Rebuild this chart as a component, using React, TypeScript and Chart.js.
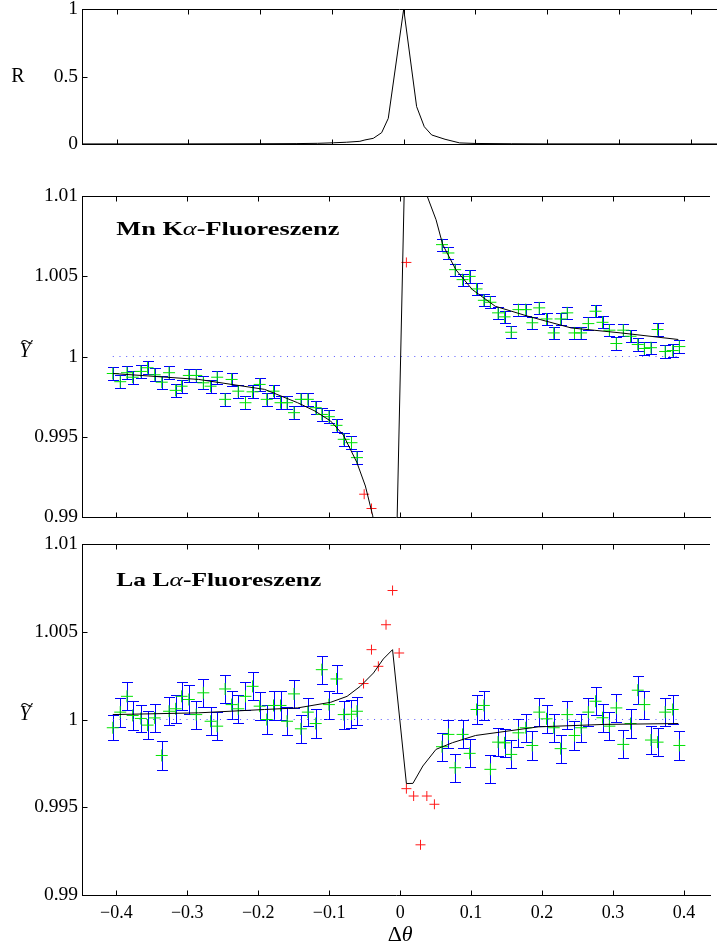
import React, { useEffect, useRef } from 'react';
import { Chart, registerables } from 'chart.js';

Chart.register(...registerables);

// ---------- tick definitions ----------
const xTicks = [-0.4, -0.3, -0.2, -0.1, 0, 0.1, 0.2, 0.3, 0.4];
const xTickLabels = ['\u22120.4', '\u22120.3', '\u22120.2', '\u22120.1', '0', '0.1', '0.2', '0.3', '0.4'];
const rTicks = [0, 0.5, 1];
const rTickLabels = ['0', '0.5', '1'];
const yTicks = [0.99, 0.995, 1, 1.005, 1.01];
const yTickLabels = ['0.99', '0.995', '1', '1.005', '1.01'];

// ---------- top panel: reflectivity R ----------
const rX = [-0.45, -0.3, -0.2, -0.15, -0.12, -0.098, -0.08, -0.061, -0.054, -0.0424, -0.0307, -0.0215, 0, 0.018, 0.0287, 0.039, 0.0576, 0.078, 0.1, 0.15, 0.2, 0.3, 0.45];
const rY = [0.0005, 0.001, 0.002, 0.003, 0.005, 0.009, 0.013, 0.02, 0.03, 0.042, 0.084, 0.19, 1, 0.277, 0.128, 0.067, 0.035, 0.008, 0.004, 0.002, 0.001, 0.0007, 0.0004];

// ---------- measurement positions (shared by both panels) ----------
const xsLeft = [-0.405, -0.3945, -0.385, -0.377, -0.3655, -0.356, -0.346, -0.336, -0.3257, -0.3164, -0.308, -0.2978, -0.2874, -0.2774, -0.2672, -0.2579, -0.2467, -0.2375, -0.2282, -0.218, -0.208, -0.198, -0.188, -0.1785, -0.1686, -0.1594, -0.1496, -0.1399, -0.1301, -0.119, -0.1104, -0.1004, -0.0897, -0.0795, -0.0686, -0.0609];
const xsRight = [0.059, 0.068, 0.0775, 0.088, 0.098, 0.1077, 0.118, 0.1272, 0.138, 0.1472, 0.1565, 0.1667, 0.177, 0.1862, 0.196, 0.2063, 0.2165, 0.2262, 0.2355, 0.2457, 0.255, 0.2652, 0.2754, 0.2852, 0.2949, 0.3047, 0.3145, 0.3247, 0.3349, 0.3442, 0.3535, 0.3628, 0.3735, 0.3841, 0.3935];

// ---------- Mn K-alpha fluorescence ----------
const mnLeft = [0.99894, 0.99843, 0.99899, 0.99871, 0.99907, 0.9993, 0.99886, 0.9984, 0.99899, 0.99789, 0.99815, 0.99882, 0.99882, 0.99836, 0.99815, 0.99871, 0.99733, 0.99857, 0.99784, 0.99712, 0.9978, 0.99826, 0.99733, 0.99784, 0.99712, 0.99712, 0.9965, 0.99733, 0.99733, 0.99681, 0.99639, 0.99625, 0.99571, 0.99484, 0.99463, 0.9937];
const mnRight = [1.00697, 1.00645, 1.00541, 1.00479, 1.00499, 1.00421, 1.0035, 1.00338, 1.00272, 1.00247, 1.00151, 1.00292, 1.00292, 1.0021, 1.00303, 1.00234, 1.00147, 1.00234, 1.00272, 1.00147, 1.00147, 1.00205, 1.00282, 1.00213, 1.00164, 1.00081, 1.00164, 1.00126, 1.00075, 1.0005, 1.00055, 1.00168, 1.00031, 1.00037, 1.00062];
const mnErrLeft = [0.0004, 0.0004, 0.0004, 0.0004, 0.0004, 0.0004, 0.0004, 0.0004, 0.0004, 0.0004, 0.0004, 0.0004, 0.0004, 0.0004, 0.0004, 0.0004, 0.0004, 0.0004, 0.0004, 0.0004, 0.0004, 0.0004, 0.0004, 0.0004, 0.0004, 0.0004, 0.0004, 0.0004, 0.0004, 0.0004, 0.0004, 0.0004, 0.0004, 0.0004, 0.0004, 0.0004];
const mnErrRight = [0.00038, 0.00038, 0.00038, 0.00038, 0.00038, 0.00038, 0.00038, 0.00038, 0.00038, 0.00038, 0.00038, 0.00038, 0.00038, 0.00038, 0.00038, 0.00038, 0.00038, 0.00038, 0.00038, 0.00038, 0.00038, 0.00038, 0.00038, 0.00038, 0.00038, 0.00038, 0.00038, 0.00038, 0.00038, 0.00038, 0.00038, 0.00038, 0.00038, 0.00038, 0.00038];
const mnRedX = [-0.0507, -0.0404, 0.0088];
const mnRedY = [0.99142, 0.99053, 1.00586];
const mnFitX = [-0.405, -0.2839, -0.191, -0.1445, -0.12, -0.098, -0.08, -0.061, -0.049, -0.0386, -0.01, 0.01, 0.038, 0.0506, 0.06, 0.0785, 0.1017, 0.134, 0.18, 0.241, 0.311, 0.392];
const mnFitY = [0.99894, 0.99857, 0.99795, 0.99712, 0.9966, 0.99598, 0.9951, 0.9934, 0.99193, 0.99007, 0.97817, 1.01898, 1.01, 1.00852, 1.00697, 1.00541, 1.00417, 1.00313, 1.00251, 1.00178, 1.00147, 1.00106];

// ---------- La L-alpha fluorescence ----------
const laLeft = [0.99953, 1.00042, 1.00132, 1.00023, 1.00006, 0.99968, 1.00009, 0.99795, 1.00047, 1.00061, 1.00132, 1.00114, 1.00028, 1.00152, 0.9999, 0.99962, 1.00174, 1.00085, 1.00061, 1.00132, 1.00189, 1.00076, 1.0, 1.0008, 1.0008, 0.9999, 1.00146, 0.99947, 1.00042, 0.99977, 1.00284, 1.00085, 1.00231, 1.00028, 1.0003, 1.00047];
const laRight = [0.99845, 0.99915, 0.99725, 0.99915, 0.99807, 1.00057, 1.0008, 0.99716, 0.99871, 0.99867, 0.99801, 0.99924, 0.99953, 0.99852, 1.00042, 1.00004, 0.99953, 0.99834, 1.00028, 0.99909, 0.99953, 1.00042, 1.00104, 1.0001, 0.99962, 1.00066, 0.99858, 0.99977, 1.00167, 1.00085, 0.99883, 0.99871, 1.00042, 1.00057, 0.99852];
const laErrLeft = [0.00072, 0.00082, 0.0008, 0.00082, 0.00078, 0.0008, 0.0008, 0.00082, 0.0008, 0.0008, 0.0008, 0.0008, 0.0008, 0.0008, 0.0008, 0.0008, 0.0008, 0.0008, 0.0008, 0.0008, 0.0008, 0.0008, 0.0008, 0.0008, 0.0008, 0.0008, 0.0008, 0.0008, 0.0008, 0.0008, 0.0008, 0.0008, 0.0008, 0.0008, 0.0008, 0.0008];
const laErrRight = [0.0008, 0.0008, 0.0008, 0.0008, 0.0008, 0.0008, 0.0008, 0.0008, 0.0008, 0.0008, 0.0008, 0.0008, 0.0008, 0.0008, 0.0008, 0.0008, 0.0008, 0.0008, 0.0008, 0.0008, 0.0008, 0.0008, 0.0008, 0.0008, 0.0008, 0.0008, 0.0008, 0.0008, 0.0008, 0.0008, 0.0008, 0.0008, 0.0008, 0.0008, 0.00082];
const laRedX = [-0.0516, -0.0404, -0.0307, -0.0199, -0.0107, -0.0014, 0.0088, 0.019, 0.0287, 0.0376, 0.0483];
const laRedY = [1.00205, 1.00398, 1.00303, 1.0054, 1.00735, 1.00379, 0.99606, 0.99564, 0.99286, 0.99564, 0.99517];
const laFitX = [-0.405, -0.2839, -0.191, -0.1445, -0.098, -0.0748, -0.0563, -0.0376, -0.0237, -0.0107, 0.0088, 0.018, 0.032, 0.0506, 0.0739, 0.1063, 0.1946, 0.2875, 0.392];
const laFitY = [1.00028, 1.00038, 1.00057, 1.00066, 1.00098, 1.00132, 1.00189, 1.00265, 1.00345, 1.00398, 0.99635, 0.99636, 0.99735, 0.9983, 0.99868, 0.99909, 0.99958, 0.99972, 0.99977];

// ---------- styling ----------
const SERIF = '"Liberation Serif", "Times New Roman", serif';
const X_MIN = -0.4484;
const X_MAX = 0.4367;
const GREEN = '#00e400';
const BLUE = '#0000ff';
const RED = '#ff1a1a';

const zip = (xs: number[], ys: number[]) => xs.map((x, i) => ({ x, y: ys[i] }));

type Rich = { t: string; font: string };

function drawRich(ctx: CanvasRenderingContext2D, segs: Rich[], x: number, y: number, targetWidth: number) {
  let w = 0;
  segs.forEach((s) => {
    ctx.font = s.font;
    w += ctx.measureText(s.t).width;
  });
  const sx = targetWidth > 0 ? targetWidth / w : 1;
  ctx.save();
  ctx.translate(x, y);
  ctx.scale(sx, 1);
  ctx.textBaseline = 'alphabetic';
  ctx.textAlign = 'left';
  let cx = 0;
  segs.forEach((s) => {
    ctx.font = s.font;
    ctx.fillText(s.t, cx, 0);
    cx += ctx.measureText(s.t).width;
  });
  ctx.restore();
}

const errorBarPlugin = {
  id: 'errorBars',
  beforeDatasetsDraw(chart: any) {
    const { ctx, chartArea: a, scales } = chart;
    const xs = scales.x;
    const ys = scales.y;
    ctx.save();
    ctx.beginPath();
    ctx.rect(a.left, a.top, a.right - a.left, a.bottom - a.top);
    ctx.clip();
    chart.data.datasets.forEach((ds: any) => {
      if (!ds.errorBars) return;
      ctx.strokeStyle = BLUE;
      ctx.lineWidth = 1;
      const cap = 5.5;
      ds.data.forEach((p: any, i: number) => {
        const e = ds.errorBars[i];
        const px = Math.round(xs.getPixelForValue(p.x)) + 0.5;
        const y1 = Math.round(ys.getPixelForValue(p.y - e)) + 0.5;
        const y2 = Math.round(ys.getPixelForValue(p.y + e)) + 0.5;
        ctx.beginPath();
        ctx.moveTo(px, y1);
        ctx.lineTo(px, y2);
        ctx.moveTo(px - cap, y1);
        ctx.lineTo(px + cap, y1);
        ctx.moveTo(px - cap, y2);
        ctx.lineTo(px + cap, y2);
        ctx.stroke();
      });
    });
    ctx.restore();
  },
};

const framePlugin = {
  id: 'frame',
  afterDraw(chart: any) {
    const { ctx, chartArea: a, scales } = chart;
    const fo = chart.options.plugins.frame || {};
    const xs = scales.x;
    const ys = scales.y;
    const tl = 5;
    ctx.save();
    ctx.strokeStyle = '#000';
    ctx.lineWidth = 1;
    const top = Math.round(a.top) + 0.5;
    const bottom = Math.round(a.bottom) + 0.5;
    const left = Math.round(a.left) + 0.5;
    ctx.beginPath();
    ctx.moveTo(a.left, top);
    ctx.lineTo(a.right, top);
    xs.ticks.forEach((t: any) => {
      const px = Math.round(xs.getPixelForValue(t.value)) + 0.5;
      ctx.moveTo(px, top);
      ctx.lineTo(px, top + tl);
      ctx.moveTo(px, bottom);
      ctx.lineTo(px, bottom - tl);
    });
    ys.ticks.forEach((t: any) => {
      const py = Math.round(ys.getPixelForValue(t.value)) + 0.5;
      ctx.moveTo(left, py);
      ctx.lineTo(left + tl, py);
    });
    ctx.stroke();

    ctx.fillStyle = '#000';
    // y-axis label
    if (fo.yLabel === 'R') {
      ctx.font = '20px ' + SERIF;
      ctx.textAlign = 'center';
      ctx.textBaseline = 'middle';
      ctx.fillText('R', 18, ys.getPixelForValue(0.5));
    } else if (fo.yLabel === 'Y') {
      const cy = ys.getPixelForValue(fo.yLabelValue);
      ctx.font = 'italic 20px ' + SERIF;
      ctx.textAlign = 'center';
      ctx.textBaseline = 'alphabetic';
      ctx.fillText('Y', 25, cy);
      ctx.save();
      ctx.translate(27, cy - 10);
      ctx.scale(1.5, 1);
      ctx.font = '16px ' + SERIF;
      ctx.fillText('~', 0, 0);
      ctx.restore();
    }
    // panel title
    if (fo.title) {
      const tx = xs.getPixelForValue(fo.titleX);
      const ty = ys.getPixelForValue(fo.titleY);
      drawRich(
        ctx,
        [
          { t: fo.title[0], font: 'bold 19px ' + SERIF },
          { t: '\u03B1', font: 'italic 19px ' + SERIF },
          { t: fo.title[1], font: 'bold 19px ' + SERIF },
        ],
        tx,
        ty,
        fo.titleWidth
      );
    }
    // x-axis label
    if (fo.xLabel) {
      const cx = xs.getPixelForValue(0);
      ctx.textBaseline = 'alphabetic';
      ctx.font = '22px ' + SERIF;
      const wD = ctx.measureText('\u0394').width;
      ctx.font = 'italic 22px ' + SERIF;
      const wT = ctx.measureText('\u03B8').width;
      const x0 = cx - (wD + wT) / 2;
      ctx.textAlign = 'left';
      ctx.font = '22px ' + SERIF;
      ctx.fillText('\u0394', x0, a.bottom + 46);
      ctx.font = 'italic 22px ' + SERIF;
      ctx.fillText('\u03B8', x0 + wD, a.bottom + 46);
    }
    ctx.restore();
  },
};

type PanelSpec = {
  top: number;
  height: number;
  padTop: number;
  xAxisH: number;
  yMin: number;
  yMax: number;
  yTickVals: number[];
  yTickText: string[];
  showXLabels: boolean;
  datasets: any[];
  frame: any;
};

function Panel({ spec }: { spec: PanelSpec }) {
  const ref = useRef<HTMLCanvasElement | null>(null);
  useEffect(() => {
    if (!ref.current) return;
    const chart = new Chart(ref.current, {
      type: 'scatter',
      data: { datasets: spec.datasets },
      plugins: [errorBarPlugin, framePlugin],
      options: {
        animation: false,
        responsive: false,
        devicePixelRatio: 1,
        events: [],
        layout: { padding: { top: spec.padTop, left: 0, right: 0, bottom: 0 } },
        plugins: {
          legend: { display: false },
          tooltip: { enabled: false },
          title: { display: false },
          frame: spec.frame,
        } as any,
        scales: {
          x: {
            type: 'linear',
            min: X_MIN,
            max: X_MAX,
            afterBuildTicks: (s: any) => {
              s.ticks = xTicks.map((v) => ({ value: v }));
            },
            afterFit: (s: any) => {
              s.height = spec.xAxisH;
              s.paddingLeft = 0;
              s.paddingRight = 0;
            },
            grid: { display: false, drawTicks: false },
            border: { display: true, color: '#000', width: 1 },
            ticks: {
              display: spec.showXLabels,
              autoSkip: false,
              maxRotation: 0,
              padding: 7,
              color: '#000',
              font: { family: SERIF, size: 18, lineHeight: 1.2 },
              callback: (v: any) => {
                const i = xTicks.findIndex((t) => Math.abs(t - v) < 1e-9);
                return i >= 0 ? xTickLabels[i] : '';
              },
            },
          },
          y: {
            type: 'linear',
            min: spec.yMin,
            max: spec.yMax,
            afterBuildTicks: (s: any) => {
              s.ticks = spec.yTickVals.map((v) => ({ value: v }));
            },
            afterFit: (s: any) => {
              s.width = 82;
              s.paddingTop = 0;
              s.paddingBottom = 0;
            },
            grid: { display: false, drawTicks: false },
            border: { display: true, color: '#000', width: 1 },
            ticks: {
              autoSkip: false,
              padding: 4,
              color: '#000',
              font: { family: SERIF, size: 19.5, lineHeight: 1 },
              callback: (v: any) => {
                const i = spec.yTickVals.findIndex((t) => Math.abs(t - v) < 1e-9);
                return i >= 0 ? spec.yTickText[i] : '';
              },
            },
          },
        },
      } as any,
    });
    return () => chart.destroy();
  }, [spec]);
  return (
    <canvas
      ref={ref}
      width={717}
      height={spec.height}
      style={{ position: 'absolute', left: 0, top: spec.top, width: 717, height: spec.height, display: 'block' }}
    />
  );
}

const lineDs = (data: any[], color: string, dash: number[] = []) => ({
  type: 'line',
  data,
  borderColor: color,
  borderWidth: 1,
  borderDash: dash,
  pointRadius: 0,
  tension: 0,
  fill: false,
  showLine: true,
});

const crossDs = (data: any[], color: string, radius: number, errors?: number[]) => ({
  type: 'scatter',
  data,
  pointStyle: 'cross',
  pointRadius: radius,
  pointBorderColor: color,
  pointBorderWidth: 1,
  borderColor: color,
  backgroundColor: color,
  showLine: false,
  errorBars: errors,
});

const refLine = [
  { x: xsLeft[0], y: 1 },
  { x: xsRight[xsRight.length - 1], y: 1 },
];

const topSpec: PanelSpec = {
  top: 0,
  height: 160,
  padTop: 9,
  xAxisH: 16,
  yMin: 0,
  yMax: 1,
  yTickVals: rTicks,
  yTickText: rTickLabels,
  showXLabels: false,
  datasets: [lineDs(zip(rX, rY), '#000')],
  frame: { yLabel: 'R' },
};

const mnSpec: PanelSpec = {
  top: 160,
  height: 370,
  padTop: 36,
  xAxisH: 13,
  yMin: 0.99,
  yMax: 1.01,
  yTickVals: yTicks,
  yTickText: yTickLabels,
  showXLabels: false,
  datasets: [
    lineDs(zip(mnFitX, mnFitY), '#000'),
    crossDs(zip(mnRedX, mnRedY), RED, 5),
    crossDs(zip(xsLeft, mnLeft), GREEN, 6, mnErrLeft),
    crossDs(zip(xsRight, mnRight), GREEN, 6, mnErrRight),
    lineDs(refLine, '#5555ff', [1, 5.7]),
  ],
  frame: { yLabel: 'Y', yLabelValue: 1, title: ['Mn K', '-Fluoreszenz'], titleX: -0.4, titleY: 1.00754, titleWidth: 223 },
};

const laSpec: PanelSpec = {
  top: 530,
  height: 416,
  padTop: 14,
  xAxisH: 51,
  yMin: 0.99,
  yMax: 1.01,
  yTickVals: yTicks,
  yTickText: yTickLabels,
  showXLabels: true,
  datasets: [
    lineDs(zip(laFitX, laFitY), '#000'),
    crossDs(zip(laRedX, laRedY), RED, 5),
    crossDs(zip(xsLeft, laLeft), GREEN, 6, laErrLeft),
    crossDs(zip(xsRight, laRight), GREEN, 6, laErrRight),
    lineDs(refLine, '#5555ff', [1, 5.7]),
  ],
  frame: { yLabel: 'Y', yLabelValue: 1, title: ['La L', '-Fluoreszenz'], titleX: -0.4, titleY: 1.00763, titleWidth: 205, xLabel: true },
};

export default function App() {
  return (
    <div style={{ position: 'fixed', left: 0, top: 0, width: 717, height: 946, background: '#fff', overflow: 'hidden' }}>
      <Panel spec={topSpec} />
      <Panel spec={mnSpec} />
      <Panel spec={laSpec} />
    </div>
  );
}
